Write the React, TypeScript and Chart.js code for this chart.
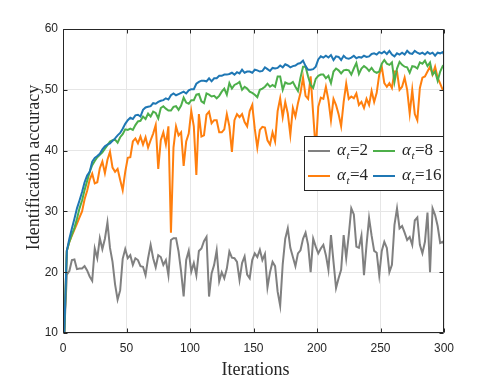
import React, { useEffect, useRef } from 'react';
import { Chart, registerables } from 'chart.js';

Chart.register(...registerables);

// x positions (iterations) shared by every series
const iterations = [
  1, 3, 5, 7, 9, 11, 13, 15, 17, 19,
  21, 23, 25, 27, 29, 31, 33, 35, 37, 39,
  41, 43, 45, 47, 49, 51, 53, 55, 57, 59,
  61, 63, 65, 67, 69, 71, 73, 75, 77, 79,
  81, 83, 85, 87, 89, 91, 93, 95, 97, 99,
  101, 103, 105, 107, 109, 111, 113, 115, 117, 119,
  121, 123, 125, 127, 129, 131, 133, 135, 137, 139,
  141, 143, 145, 147, 149, 151, 153, 155, 157, 159,
  161, 163, 165, 167, 169, 171, 173, 175, 177, 179,
  181, 183, 185, 187, 189, 191, 193, 195, 197, 199,
  201, 203, 205, 207, 209, 211, 213, 215, 217, 219,
  221, 223, 225, 227, 229, 231, 233, 235, 237, 239,
  241, 243, 245, 247, 249, 251, 253, 255, 257, 259,
  261, 263, 265, 267, 269, 271, 273, 275, 277, 279,
  281, 283, 285, 287, 289, 291, 293, 295, 297, 299,
  300,
];

const alpha2 = [
  10, 19.6, 20.2, 22, 22.1, 20.5, 20.6, 20.6, 21, 20.3,
  19.3, 18.6, 23.9, 22.3, 25.6, 23.8, 25.5, 28.2, 24, 21.7,
  18, 15.5, 17, 22.2, 23.8, 22.3, 22.8, 21.2, 22.3, 22,
  21, 20.9, 19.5, 22.3, 24.5, 22.3, 20.8, 22.8, 22.5, 21.2,
  22, 19.5, 25.3, 25.6, 25.6, 23.4, 20.1, 16, 22, 23.5,
  20.1, 21.5, 19.5, 23.5, 23.9, 25.1, 25.8, 16, 19.8, 21.2,
  23.6, 18.5, 20, 19, 20.6, 23.4, 22.4, 22.3, 21.7, 18.7,
  21.5, 22.6, 19.6, 19, 22, 23.1, 22.5, 23.7, 22, 23,
  17.5, 20, 21.7, 21, 16.8, 14.5, 21.3, 25.5, 27.2, 24,
  22.5, 21, 23.1, 23.6, 25.5, 26.5, 24.5, 20, 25.5, 24.2,
  23.1, 23.9, 24.5, 22.8, 20.4, 26.1, 21.7, 17.4, 19, 20.4,
  26.1, 22.3, 26.1, 30.5, 29.5, 24.2, 24, 26, 19.5, 24.5,
  28.9, 26, 23.5, 23.2, 19.5, 23.5, 25, 24, 20, 21.2,
  27.8, 30.5, 27.2, 27.6, 26.5, 25.3, 25.8, 24.5, 28.5, 29,
  24.5, 23.1, 25, 29.8, 20, 30.5, 29.4, 27.6, 24.8, 25,
  24.7,
];

const alpha4 = [
  10, 23.5, 25, 26, 27, 28, 29, 30, 32, 33.4,
  35.2, 36.2, 34.6, 34.8, 37.1, 38.2, 36.3, 38.5, 39.8, 37.2,
  36.5, 37, 35.2, 33.5, 36.5, 38.8, 38.9, 41.5, 42, 41.2,
  42.3, 41, 42.2, 40.5, 41.7, 42.8, 44.2, 37, 41.7, 43,
  41, 44, 26.5, 40.5, 44, 42.5, 43, 37.5, 41.5, 42.8,
  46.5, 44, 36, 46, 42.3, 42.5, 45.9, 46.4, 44.5, 45,
  45, 43, 43, 43.5, 46, 44, 39.8, 45, 46, 45.5,
  46, 44.7, 44, 46.5, 47.5, 43.6, 40.5, 43.4, 43.9, 43.8,
  41.7, 41, 43, 41.5, 46.5, 48.6, 45.5, 48, 46.1, 42.6,
  47, 45.6, 47.8, 49.5, 52, 49, 48.5, 52.2, 46, 40,
  47.2, 48.7, 48.5, 50.5, 48.3, 45, 48.5, 47.5, 46, 44,
  48, 51, 48.5, 48.9, 48.6, 49.4, 47.5, 48, 47, 48.5,
  47.5, 49.8, 48, 49.5, 52.5, 53.8, 51.1, 50.5, 51.1, 50.3,
  53, 53, 50, 50.5, 52, 50, 46.1, 50, 46, 45,
  50.3, 52, 52.2, 53, 53.8, 52.5, 53.8, 52, 51, 50,
  50,
];

const alpha8 = [
  10, 23.5, 25, 26.2, 27.3, 28.8, 30.5, 31.8, 33.5, 35,
  36.5, 37.6, 38.3, 38.9, 39.3, 39.7, 40.3, 40.9, 41.5, 41.7,
  41.8, 41.3, 42.2, 42.7, 43.5, 43.4, 43.6, 43.4, 44.2, 44.8,
  44.9, 45.6, 45.2, 46.1, 45.6, 46.4, 46.2, 45.3, 47, 47.3,
  46.9, 46.6, 46.6, 47.2, 47.3, 46.7, 47.4, 48.7, 47.9, 47.7,
  48.3, 48.3, 49.2, 49.3, 48.1, 47.8, 49.4, 49.2, 48.9, 49,
  48.6, 49, 49.7, 50.2, 49.2, 51.1, 50.2, 50.8, 51, 51.3,
  50, 50.5, 50.2, 49.7, 49.5, 49.2, 48.8, 50, 50.2, 50.5,
  51, 50.5, 50.8, 50.5, 52.2, 52.2, 50, 51.2, 51, 51,
  51.3, 50.5, 49.8, 52, 53.8, 53.8, 52.2, 50.8, 50.3, 51.8,
  52.3, 52.5, 52.5, 51.9, 52.3, 51.1, 53, 53.5, 53.2, 52.7,
  53.2, 53.3, 53.2, 52.5, 53.5, 54.4, 52.6, 53.5, 53.9, 53.6,
  53.1, 53.6, 53, 52.8, 53, 54.3, 54.9, 54.3, 54.1, 54.5,
  51.3, 53.5, 54.6, 54.1, 53.8, 53.7, 52.8, 53.9, 53.8, 53.5,
  54.5, 54.3, 54.8, 53.9, 54.5, 52.5, 53, 51.5, 53, 53.9,
  54.1,
];

const alpha16 = [
  10, 23.5, 25.5, 27.2, 28.8, 30.5, 31.8, 33.2, 34.8, 35.9,
  36.5, 38.2, 38.8, 39.1, 39.5, 40.2, 40.7, 41, 41.2, 41.6,
  42, 42.5, 42.9, 43.6, 44.4, 45, 45.4, 45.2, 45.8, 45.9,
  45.6, 46.7, 47.1, 47.2, 47.3, 47.8, 47.7, 48, 48.2, 48.3,
  48.6, 48.4, 49.1, 49.4, 49.1, 49.3, 49.5, 49.7, 49.4, 49.9,
  50.1, 50.1, 51, 51.3, 51.5, 51.5, 51.4, 51.9, 51.4, 51.9,
  51.9, 52.3, 52.3, 52.5, 52.5, 52.6, 52.8, 52.5, 52.9, 52.7,
  53.3, 52.8, 53, 53, 52.8, 53.3, 53.2, 53, 53.1, 53.7,
  53.4, 53.1, 53.6, 53.5, 53.6, 54, 53.7, 54.2, 54, 53.7,
  53.9, 54, 54.3, 54.4, 54.8, 53.9, 53.3, 53.3, 53.4, 53.8,
  55, 55.5, 55.3, 55.6, 55.3, 55.7, 54.9, 55.5, 55.4, 54.9,
  55.6, 55.2, 55.1, 55.3, 55.6, 55.2, 55.4, 55.3, 55.6, 55.4,
  55.5, 55.9, 56, 55.8, 56.2, 56, 56.3, 55.9, 56.4, 55.8,
  55.5, 56, 55.8, 56.1, 55.8, 56.4, 56, 55.9, 56.4, 56.1,
  55.9, 56.1, 55.8, 56.2, 55.9, 56.1, 55.6, 56.1, 56, 56.2,
  55.8,
];

const seriesNames = ['α_t=2', 'α_t=4', 'α_t=8', 'α_t=16'];
const seriesColors = ['#808080', '#ff7f0e', '#4daf4a', '#1f77b4'];
const seriesValues = [alpha2, alpha4, alpha8, alpha16];
const seriesOrder = [3, 2, 1, 0];

const xTickValues = [0, 50, 100, 150, 200, 250, 300];
const yTickValues = [10, 20, 30, 40, 50, 60];
const xTitle = 'Iterations';
const yTitle = 'Identification accuracy';

const TEXT = '#262626';
const SERIF = '"Liberation Serif", "Times New Roman", serif';
const SANS = '"Liberation Sans", Arial, sans-serif';

function drawLegendLabel(ctx: CanvasRenderingContext2D, label: string, x: number, baseY: number) {
  const [base, tail] = label.split('_');
  const sub = tail.charAt(0);
  const rest = tail.slice(1);
  ctx.textAlign = 'left';
  ctx.textBaseline = 'alphabetic';
  ctx.font = `italic 17px ${SERIF}`;
  ctx.fillText(base, x, baseY);
  const w1 = ctx.measureText(base).width;
  ctx.font = `italic 11px ${SERIF}`;
  ctx.fillText(sub, x + w1 + 0.5, baseY + 4);
  const w2 = ctx.measureText(sub).width;
  ctx.font = `17px ${SERIF}`;
  ctx.fillText(rest, x + w1 + w2 + 1, baseY);
}

const framePlugin = {
  id: 'frame',
  afterDatasetsDraw(chart: any) {
    const ctx: CanvasRenderingContext2D = chart.ctx;
    const { right } = chart.chartArea;
    const boxW = 140;
    const boxH = 55;
    const bx = right - boxW;
    const by = 136;
    ctx.save();
    ctx.fillStyle = '#ffffff';
    ctx.fillRect(bx, by, boxW, boxH);
    ctx.strokeStyle = TEXT;
    ctx.lineWidth = 1;
    ctx.strokeRect(bx + 0.5, by + 0.5, boxW - 1, boxH - 1);
    const slots = [
      { i: 0, col: 0, row: 0 },
      { i: 2, col: 1, row: 0 },
      { i: 1, col: 0, row: 1 },
      { i: 3, col: 1, row: 1 },
    ];
    for (const s of slots) {
      const lx = bx + 4 + s.col * 65;
      const ly = by + 15 + s.row * 25;
      ctx.strokeStyle = seriesColors[s.i];
      ctx.lineWidth = 2;
      ctx.beginPath();
      ctx.moveTo(lx, ly);
      ctx.lineTo(lx + 22, ly);
      ctx.stroke();
      ctx.fillStyle = TEXT;
      drawLegendLabel(ctx, seriesNames[s.i], lx + 29, ly + 4);
    }
    ctx.restore();
  },
  afterDraw(chart: any) {
    const ctx: CanvasRenderingContext2D = chart.ctx;
    const { left, right, top, bottom } = chart.chartArea;
    const xs = chart.scales.x;
    const ys = chart.scales.y;
    ctx.save();
    ctx.strokeStyle = TEXT;
    ctx.lineWidth = 1;
    const L = Math.round(left) + 0.5;
    const R = Math.round(right) - 0.5;
    const T = Math.round(top) + 0.5;
    const B = Math.round(bottom) - 0.5;
    ctx.beginPath();
    ctx.rect(L, T, R - L, B - T);
    for (const v of xTickValues) {
      const px = Math.round(xs.getPixelForValue(v)) + 0.5;
      ctx.moveTo(px, B);
      ctx.lineTo(px, B - 4);
      ctx.moveTo(px, T);
      ctx.lineTo(px, T + 4);
    }
    for (const v of yTickValues) {
      const py = Math.round(ys.getPixelForValue(v)) + 0.5;
      ctx.moveTo(L, py);
      ctx.lineTo(L + 4, py);
      ctx.moveTo(R, py);
      ctx.lineTo(R - 4, py);
    }
    ctx.stroke();
    ctx.fillStyle = TEXT;
    ctx.font = `18px ${SERIF}`;
    ctx.textAlign = 'center';
    ctx.textBaseline = 'alphabetic';
    ctx.fillText(xTitle, (left + right) / 2 + 2, 375);
    ctx.translate(38.5, 167.5);
    ctx.rotate(-Math.PI / 2);
    ctx.fillText(yTitle, 0, 0);
    ctx.restore();
  },
};

export default function App() {
  const ref = useRef<HTMLCanvasElement | null>(null);
  useEffect(() => {
    if (!ref.current) return;
    const datasets = seriesValues.map((vals, i) => ({
      label: seriesNames[i],
      data: vals.map((v, j) => ({ x: iterations[j], y: v })),
      borderColor: seriesColors[i],
      backgroundColor: seriesColors[i],
      borderWidth: 2,
      pointRadius: 0,
      tension: 0,
      fill: false,
      order: seriesOrder[i],
    }));
    const chart = new Chart(ref.current, {
      type: 'line',
      data: { datasets },
      options: {
        animation: false,
        responsive: false,
        devicePixelRatio: 1,
        layout: { padding: { left: 0, top: 29, right: 47, bottom: 0 } },
        plugins: { legend: { display: false }, title: { display: false }, tooltip: { enabled: false } },
        scales: {
          x: {
            type: 'linear',
            min: 0,
            max: 300,
            afterBuildTicks: (s: any) => { s.ticks = xTickValues.map((v) => ({ value: v })); },
            afterFit: (s: any) => { s.height = 46; },
            ticks: { color: TEXT, font: { family: SANS, size: 12 }, padding: 8, maxRotation: 0, autoSkip: false },
            grid: { color: '#e6e6e6', drawTicks: false, lineWidth: 1 },
            border: { display: false },
          },
          y: {
            type: 'linear',
            min: 10,
            max: 60,
            afterBuildTicks: (s: any) => { s.ticks = yTickValues.map((v) => ({ value: v })); },
            afterFit: (s: any) => { s.width = 63; },
            ticks: { color: TEXT, font: { family: SANS, size: 12 }, padding: 5, autoSkip: false },
            grid: { color: '#e6e6e6', drawTicks: false, lineWidth: 1 },
            border: { display: false },
          },
        },
      },
      plugins: [framePlugin],
    });
    return () => chart.destroy();
  }, []);
  return (
    <div style={{ position: 'absolute', left: 0, top: 0, width: 491, height: 379, background: '#fff' }}>
      <canvas ref={ref} width={491} height={379} style={{ display: 'block' }} />
    </div>
  );
}
